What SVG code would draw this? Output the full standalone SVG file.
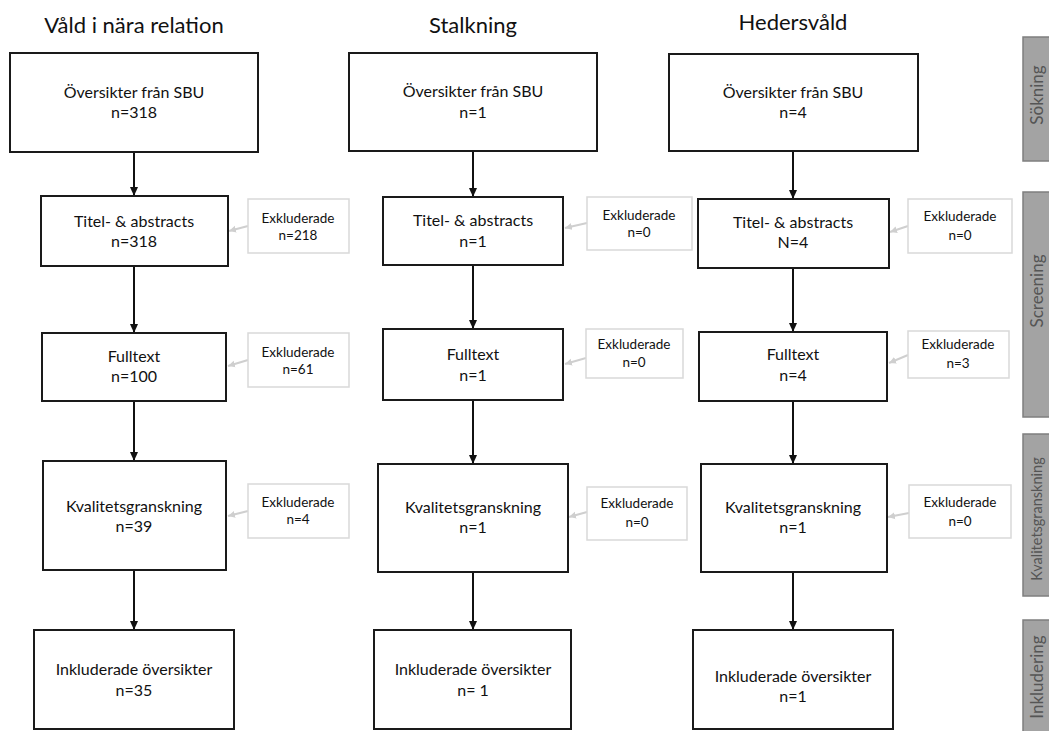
<svg xmlns="http://www.w3.org/2000/svg" width="1049" height="731" viewBox="0 0 1049 731">
<style>
.bg{fill:#fff}
.box{fill:#fff;stroke:#1a1a1a;stroke-width:2}
.ex{fill:#fff;stroke:#d9d9d9;stroke-width:1.5}
.bar{fill:#a3a3a3;stroke:#7f7f7f;stroke-width:1.5}
text{font-family:Lato,"Liberation Sans",sans-serif;fill:#111;text-anchor:middle}
.t{font-size:22px}
.m{font-size:16px}
.s{font-size:13.5px}
.b{font-size:17px;fill:#555}
.bk{font-size:14.5px;fill:#555}
.arr{stroke:#111;stroke-width:2;fill:none;marker-end:url(#ah)}
.garr{stroke:#cfcfcf;stroke-width:2;fill:none;marker-end:url(#gh)}
</style>
<defs>
<marker id="ah" markerUnits="userSpaceOnUse" markerWidth="10" markerHeight="10" refX="9" refY="4.5" orient="auto"><path d="M0,0.5 L9,4.5 L0,8.5 Z" fill="#111"/></marker>
<marker id="gh" markerUnits="userSpaceOnUse" markerWidth="8" markerHeight="8" refX="7" refY="4" orient="auto"><path d="M0,0.5 L7,4 L0,7.5 Z" fill="#cfcfcf"/></marker>
</defs>
<rect class="bg" width="1049" height="731"/>
<g id="titles">
<text class="t" x="134" y="33">Våld i nära relation</text>
<text class="t" x="473" y="33">Stalkning</text>
<text class="t" x="793" y="30">Hedersvåld</text>
</g>
<g id="connectors">
<line class="arr" x1="134" y1="152" x2="134" y2="196"/>
<line class="arr" x1="134" y1="266" x2="134" y2="333"/>
<line class="arr" x1="134" y1="401" x2="134" y2="461"/>
<line class="arr" x1="134" y1="570" x2="134" y2="630"/>
<line class="arr" x1="473" y1="151" x2="473" y2="197"/>
<line class="arr" x1="473" y1="265" x2="473" y2="329"/>
<line class="arr" x1="473" y1="400" x2="473" y2="464"/>
<line class="arr" x1="473" y1="572" x2="473" y2="630"/>
<line class="arr" x1="793" y1="151" x2="793" y2="199"/>
<line class="arr" x1="793" y1="268" x2="793" y2="332"/>
<line class="arr" x1="793" y1="401" x2="793" y2="464"/>
<line class="arr" x1="793" y1="572" x2="793" y2="630"/>
<line class="garr" x1="248" y1="226" x2="229" y2="231"/>
<line class="garr" x1="248" y1="360" x2="228" y2="366"/>
<line class="garr" x1="248" y1="511" x2="228" y2="516"/>
<line class="garr" x1="587" y1="223" x2="565" y2="228"/>
<line class="garr" x1="586" y1="358" x2="565" y2="364"/>
<line class="garr" x1="587" y1="512" x2="569" y2="517"/>
<line class="garr" x1="908" y1="226" x2="890" y2="232"/>
<line class="garr" x1="908" y1="355" x2="889" y2="363"/>
<line class="garr" x1="909" y1="513" x2="888" y2="517"/>
</g>
<g id="c1-sok"><rect class="box" x="10" y="53" width="248" height="99"/><text class="m" x="134" y="98">Översikter från SBU</text><text class="m" x="134" y="118">n=318</text></g>
<g id="c1-titel"><rect class="box" x="41" y="196" width="187" height="70"/><text class="m" x="134" y="227">Titel- &amp; abstracts</text><text class="m" x="134" y="247">n=318</text></g>
<g id="c1-ex1"><rect class="ex" x="248" y="199" width="101" height="54"/><text class="s" x="298" y="223">Exkluderade</text><text class="s" x="298" y="240">n=218</text></g>
<g id="c1-full"><rect class="box" x="42" y="333" width="184" height="68"/><text class="m" x="134" y="362">Fulltext</text><text class="m" x="134" y="382">n=100</text></g>
<g id="c1-ex2"><rect class="ex" x="248" y="333" width="101" height="54"/><text class="s" x="298" y="357">Exkluderade</text><text class="s" x="298" y="374">n=61</text></g>
<g id="c1-kval"><rect class="box" x="43" y="461" width="183" height="109"/><text class="m" x="134" y="512">Kvalitetsgranskning</text><text class="m" x="134" y="532">n=39</text></g>
<g id="c1-ex3"><rect class="ex" x="248" y="484" width="101" height="54"/><text class="s" x="298" y="507">Exkluderade</text><text class="s" x="298" y="524">n=4</text></g>
<g id="c1-incl"><rect class="box" x="34" y="630" width="200" height="99"/><text class="m" x="134" y="675">Inkluderade översikter</text><text class="m" x="134" y="696">n=35</text></g>
<g id="c2-sok"><rect class="box" x="349" y="53" width="248" height="98"/><text class="m" x="473" y="97">Översikter från SBU</text><text class="m" x="473" y="118">n=1</text></g>
<g id="c2-titel"><rect class="box" x="383" y="197" width="180" height="68"/><text class="m" x="473" y="226">Titel- &amp; abstracts</text><text class="m" x="473" y="247">n=1</text></g>
<g id="c2-ex1"><rect class="ex" x="587" y="197" width="105" height="53"/><text class="s" x="639" y="220">Exkluderade</text><text class="s" x="639" y="237">n=0</text></g>
<g id="c2-full"><rect class="box" x="383" y="329" width="180" height="71"/><text class="m" x="473" y="360">Fulltext</text><text class="m" x="473" y="381">n=1</text></g>
<g id="c2-ex2"><rect class="ex" x="586" y="329" width="97" height="49"/><text class="s" x="634" y="349">Exkluderade</text><text class="s" x="634" y="367">n=0</text></g>
<g id="c2-kval"><rect class="box" x="378" y="464" width="190" height="108"/><text class="m" x="473" y="513">Kvalitetsgranskning</text><text class="m" x="473" y="533">n=1</text></g>
<g id="c2-ex3"><rect class="ex" x="587" y="487" width="100" height="53"/><text class="s" x="637" y="508">Exkluderade</text><text class="s" x="637" y="527">n=0</text></g>
<g id="c2-incl"><rect class="box" x="374" y="630" width="197" height="99"/><text class="m" x="473" y="675">Inkluderade översikter</text><text class="m" x="473" y="696">n= 1</text></g>
<g id="c3-sok"><rect class="box" x="669" y="54" width="249" height="97"/><text class="m" x="793" y="98">Översikter från SBU</text><text class="m" x="793" y="118">n=4</text></g>
<g id="c3-titel"><rect class="box" x="698" y="199" width="191" height="69"/><text class="m" x="793" y="228">Titel- &amp; abstracts</text><text class="m" x="793" y="248">N=4</text></g>
<g id="c3-ex1"><rect class="ex" x="908" y="199" width="104" height="54"/><text class="s" x="960" y="221">Exkluderade</text><text class="s" x="960" y="240">n=0</text></g>
<g id="c3-full"><rect class="box" x="699" y="332" width="188" height="69"/><text class="m" x="793" y="360">Fulltext</text><text class="m" x="793" y="381">n=4</text></g>
<g id="c3-ex2"><rect class="ex" x="908" y="331" width="101" height="47"/><text class="s" x="958" y="349">Exkluderade</text><text class="s" x="958" y="368">n=3</text></g>
<g id="c3-kval"><rect class="box" x="701" y="464" width="186" height="108"/><text class="m" x="793" y="513">Kvalitetsgranskning</text><text class="m" x="793" y="533">n=1</text></g>
<g id="c3-ex3"><rect class="ex" x="909" y="485" width="102" height="53"/><text class="s" x="960" y="507">Exkluderade</text><text class="s" x="960" y="526">n=0</text></g>
<g id="c3-incl"><rect class="box" x="693" y="630" width="200" height="99"/><text class="m" x="793" y="682">Inkluderade översikter</text><text class="m" x="793" y="702">n=1</text></g>
<g id="phase-sokning"><rect class="bar" x="1023" y="37" width="40" height="124"/><text class="b" transform="translate(1043,95) rotate(-90)">Sökning</text></g>
<g id="phase-screening"><rect class="bar" x="1023" y="192" width="40" height="225"/><text class="b" transform="translate(1043,291) rotate(-90)">Screening</text></g>
<g id="phase-kval"><rect class="bar" x="1023" y="434" width="40" height="162"/><text class="bk" transform="translate(1042,519) rotate(-90)">Kvalitetsgranskning</text></g>
<g id="phase-inkl"><rect class="bar" x="1023" y="620" width="40" height="130"/><text class="b" transform="translate(1043,677) rotate(-90)">Inkludering</text></g>
</svg>
